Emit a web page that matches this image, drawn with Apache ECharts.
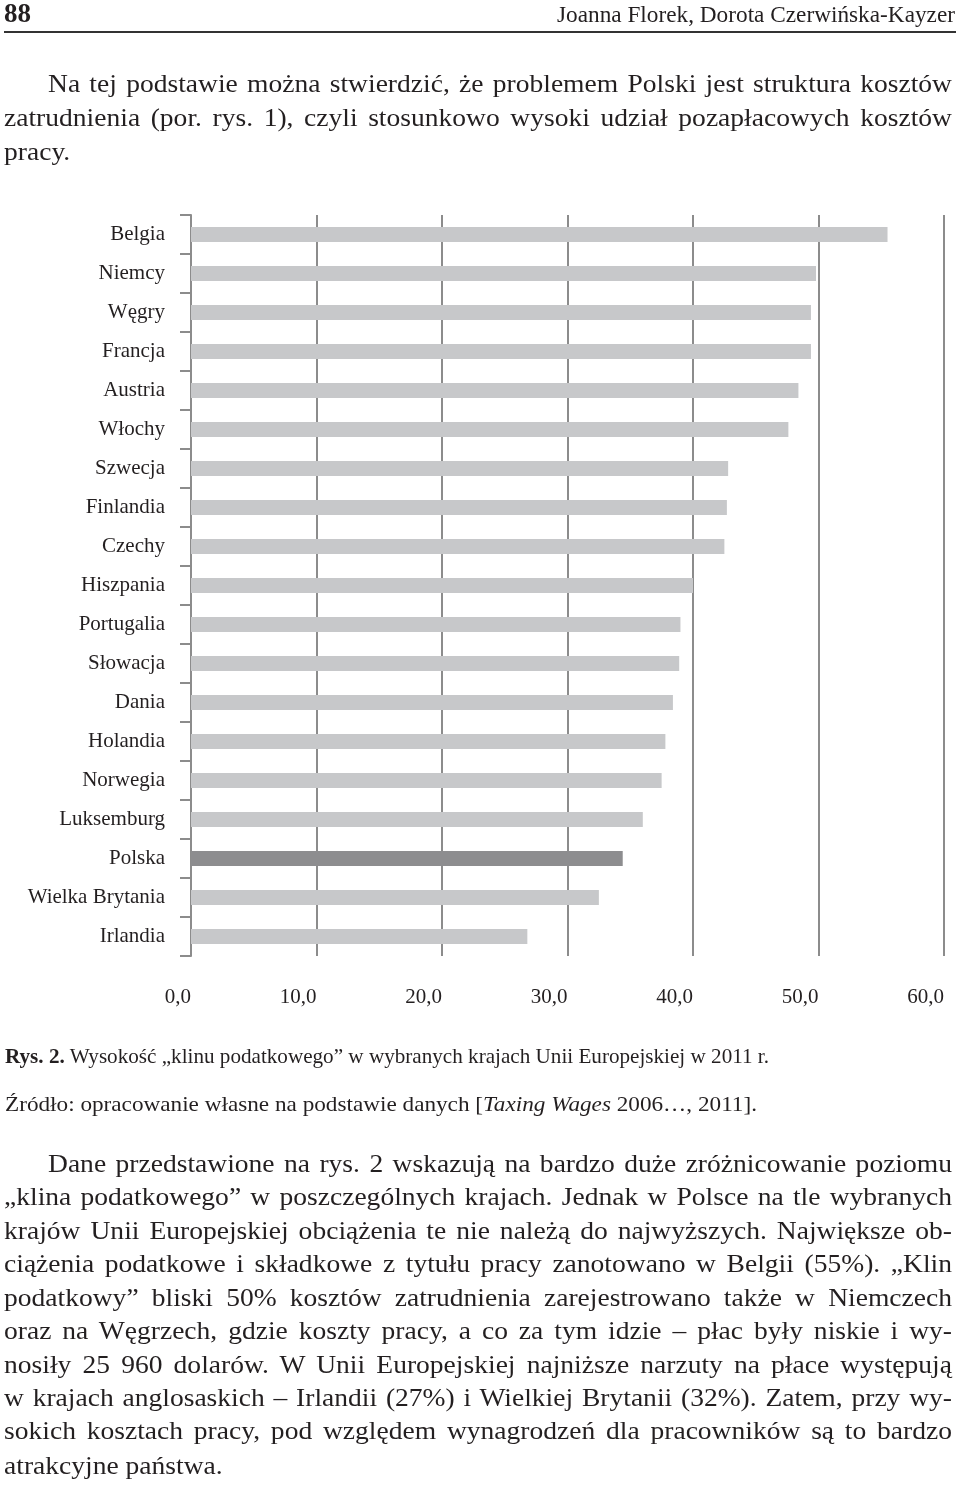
<!DOCTYPE html>
<html><head><meta charset="utf-8">
<script src="https://cdn.jsdelivr.net/npm/echarts@6.0.0/dist/echarts.min.js"></script>
<style>
html,body{margin:0;padding:0;background:#fff;}
#page{position:relative;width:960px;height:1485px;overflow:hidden;font-family:"Liberation Serif","Times New Roman",serif;color:#231f20;}
#chart{position:absolute;left:0;top:0;width:960px;height:1485px;}
.ln{position:absolute;white-space:nowrap;transform-origin:0 50%;}
#rule{position:absolute;left:4px;top:31px;width:952px;height:1.5px;background:#333;}
</style></head>
<body><div id="page"><div id="chart"></div><div id="rule"></div></div>
<script>
// ---- data ----
const categories = ['Belgia','Niemcy','Węgry','Francja','Austria','Włochy','Szwecja','Finlandia','Czechy','Hiszpania','Portugalia','Słowacja','Dania','Holandia','Norwegia','Luksemburg','Polska','Wielka Brytania','Irlandia'];
const values = [55.5,49.8,49.4,49.4,48.4,47.6,42.8,42.7,42.5,40.0,39.0,38.9,38.4,37.8,37.5,36.0,34.4,32.5,26.8];
const highlighted = ['Polska'];
const xTickLabels = ['0,0','10,0','20,0','30,0','40,0','50,0','60,0'];

// ---- chart ----
const chart = echarts.init(document.getElementById('chart'), null, {renderer:'canvas'});
const gridCol = '#8c8c8c';
chart.setOption({
  animation:false,
  grid:{left:191,right:16,top:215,height:741,containLabel:false},
  xAxis:{type:'value',min:0,max:60,interval:10,
    axisLine:{show:false},axisTick:{show:false},
    splitLine:{show:true,lineStyle:{color:gridCol,width:2}},
    axisLabel:{margin:31,fontFamily:'Liberation Serif',fontSize:21,color:'#231f20',align:'right',
      formatter:(v)=>xTickLabels[Math.round(v/10)]}},
  yAxis:{type:'category',inverse:true,data:categories,
    axisLine:{show:true,lineStyle:{color:gridCol,width:2}},
    axisTick:{show:true,length:11,lineStyle:{color:gridCol,width:2}},
    axisLabel:{margin:26,fontFamily:'Liberation Serif',fontSize:21,color:'#231f20'}},
  series:[{type:'bar',barWidth:15,
    data:values.map((v,i)=>({value:v,itemStyle:{color:highlighted.includes(categories[i])?'#8d8d8f':'#c7c8ca'}}))}]
});

// ---- text ----
const page = document.getElementById('page');
function makeLine(html, x, cy, fs, opts){
  opts = opts||{};
  const d = document.createElement('div');
  d.className='ln';
  d.innerHTML = html;
  d.style.fontSize = fs+'px';
  d.style.lineHeight = '34px';
  if(opts.bold) d.style.fontWeight='bold';
  page.appendChild(d);
  d.style.top = (cy - 18 - (0.891*fs - 0.891*26) - ((34-fs*1.107)/2 - (34-26*1.107)/2))+'px';
  d.style.left = x+'px';
  return d;
}
function fitScale(d, targetW){
  const w = d.getBoundingClientRect().width;
  d.style.transform = 'scaleX('+(targetW/w)+')';
}
// body: shared horizontal scale + justification by word spacing
function bodyBlock(lines, fs, maxScale){
  const els = lines.map(l=>{ const d = makeLine(l.t, l.x, l.y, fs); return {d, l, w:d.getBoundingClientRect().width}; });
  let s = maxScale;
  els.forEach(e=>{ if(e.l.w) s = Math.min(s, e.l.w/e.w); });
  els.forEach(e=>{
    e.d.style.transform = 'scaleX('+s+')';
    if(e.l.w){
      const spaces = (e.d.textContent.match(/ /g)||[]).length;
      e.d.style.wordSpacing = ((e.l.w/s - e.w)/spaces)+'px';
    }
  });
}
const BODY = 25.5;
const d88 = makeLine('88', 4, 14, 27, {bold:true});
fitScale(makeLine('Joanna Florek, Dorota Czerwińska-Kayzer', 557, 15, 23), 398);

bodyBlock([
 {t:'Na tej podstawie można stwierdzić, że problemem Polski jest struktura kosztów', x:48, y:85, w:904},
 {t:'zatrudnienia (por. rys. 1), czyli stosunkowo wysoki udział pozapłacowych kosztów', x:4, y:119, w:948},
 {t:'pracy.', x:4, y:153, w:0}
], BODY, 1.08);

fitScale(makeLine('<b>Rys. 2.</b> Wysokość „klinu podatkowego” w wybranych krajach Unii Europejskiej w 2011 r.', 5, 1056, 22), 764);
fitScale(makeLine('Źródło: opracowanie własne na podstawie danych [<i>Taxing Wages</i> 2006…, 2011].', 5, 1104, 22), 752);

const p2 = [
 'Dane przedstawione na rys. 2 wskazują na bardzo duże zróżnicowanie poziomu',
 '„klina podatkowego” w poszczególnych krajach. Jednak w Polsce na tle wybranych',
 'krajów Unii Europejskiej obciążenia te nie należą do najwyższych. Największe ob-',
 'ciążenia podatkowe i składkowe z tytułu pracy zanotowano w Belgii (55%). „Klin',
 'podatkowy” bliski 50% kosztów zatrudnienia zarejestrowano także w Niemczech',
 'oraz na Węgrzech, gdzie koszty pracy, a co za tym idzie – płac były niskie i wy-',
 'nosiły 25 960 dolarów. W Unii Europejskiej najniższe narzuty na płace występują',
 'w krajach anglosaskich – Irlandii (27%) i Wielkiej Brytanii (32%). Zatem, przy wy-',
 'sokich kosztach pracy, pod względem wynagrodzeń dla pracowników są to bardzo',
 'atrakcyjne państwa.'
];
const p2y = [1165,1198,1232,1265,1299,1332,1366,1399,1432,1467];
bodyBlock(p2.map((t,i)=>({t, x:i===0?48:4, y:p2y[i], w:i===p2.length-1?0:(i===0?904:948)})), BODY, 1.08);
</script>
</body></html>
